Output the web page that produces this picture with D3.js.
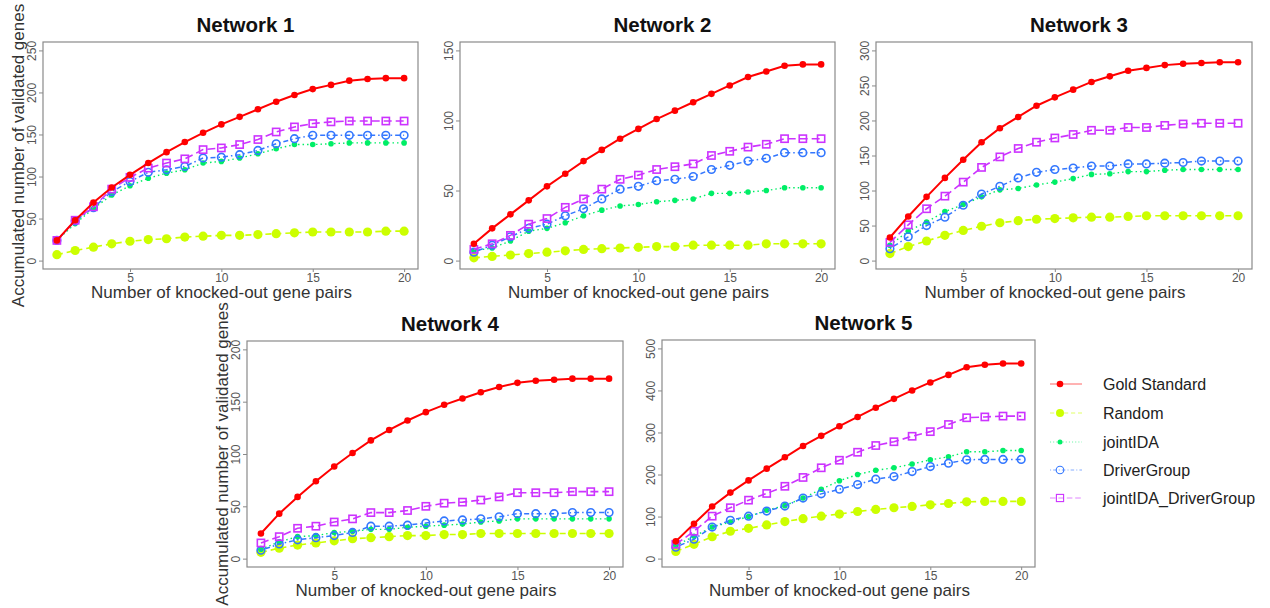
<!DOCTYPE html>
<html><head><meta charset="utf-8">
<script src="https://cdn.jsdelivr.net/npm/d3@7"></script>
<style>
html,body{margin:0;padding:0;background:#fff;}
svg{display:block;font-family:"Liberation Sans",Arial,sans-serif;}
</style></head>
<body>
<svg id="chart" width="1270" height="608"></svg>
<script>
const xValues = d3.range(1, 21);
const xTicks = [5, 10, 15, 20];
const seriesNames = ["Gold Standard", "Random", "jointIDA", "DriverGroup", "jointIDA_DriverGroup"];
const panelTitles = ["Network 1", "Network 2", "Network 3", "Network 4", "Network 5"];
const yMaxes = [250, 150, 300, 200, 500];
const yTicks = [[0,50,100,150,200,250],[0,50,100,150],[0,50,100,150,200,250,300],[0,50,100,150,200],[0,100,200,300,400,500]];

// Network 1
const n1Gold   = [24,48,69,87,102,116,129,141,152,162,171,180,189,197,204,209,214,216,217,217];
const n1Random = [7,12,16,20,23,25,26,28,29,30,30,31,32,33,34,34,34,34,35,35];
const n1Joint  = [24,44,62,78,89,98,104,108,116,118,122,127,133,138,138,139,140,140,140,140];
const n1Driver = [24,47,63,82,94,105,108,112,122,123,126,131,139,145,149,149,149,149,149,149];
const n1JD     = [24,48,64,85,99,110,116,121,132,134,138,144,153,159,163,165,166,166,166,166];
// Network 2
const n2Gold   = [12,23,33,43,53,62,71,79,87,94,101,107,113,119,125,131,135,139,140,140];
const n2Random = [2,3,4,5,6,7,8,8.5,9,9.5,10,10,11,11,11,11,12,12,12,12];
const n2Joint  = [7,9,14,21,23,27,32,36,39,40,42,43,44,48,48,49,50,52,52,52];
const n2Driver = [6,11,17,23,26,32,37,44,51,53,57,58,60,65,68,71,73,77,77,77];
const n2JD     = [8,12,18,26,30,38,44,51,58,61,65,67,69,75,78,81,83,87,87,87];
// Network 3
const n3Gold   = [33,63,91,118,144,169,189,205,221,233,244,255,263,271,275,279,281,282,283,283];
const n3Random = [10,20,28,36,43,49,54,57,59,60,61,62,62,63,64,64,64,64,64,64];
const n3Joint  = [22,42,55,70,80,91,101,103,108,112,117,123,124,127,127,129,130,130,130,130];
const n3Driver = [17,34,50,62,79,95,106,118,126,130,132,135,135,138,138,139,140,142,142,142];
const n3JD     = [26,51,74,92,112,133,148,160,169,175,180,186,186,190,190,193,195,196,196,196];
// Network 4
const n4Gold   = [24,43,59,74,88,101,113,123,132,140,147,153,159,164,168,170,171,172,172,172];
const n4Random = [6,10,13,15,17,19,20,21,22,22,23,23,24,24,24,24,24,24,24,24];
const n4Joint  = [9,16,21,22,25,26,28,28,30,31,32,33,35,36,38,38,38,38,38,38];
const n4Driver = [8,14,18,20,22,25,31,31,32,34,36,37,38,40,43,43,43,44,44,44];
const n4JD     = [15,21,29,31,35,38,44,44,46,50,53,54,56,59,63,63,63,64,64,64];
// Network 5
const n5Gold   = [41,83,124,157,186,214,241,268,292,315,337,359,380,400,419,437,455,461,464,464];
const n5Random = [17,34,52,65,72,80,88,95,101,106,112,117,121,124,128,131,135,136,136,136];
const n5Joint  = [31,53,75,87,100,115,126,144,165,185,200,210,216,225,235,242,254,254,257,257];
const n5Driver = [27,46,75,91,101,113,125,144,154,165,176,189,195,207,219,227,235,236,236,236];
const n5JD     = [34,65,101,121,139,155,172,193,216,234,253,269,278,291,302,319,335,337,339,339];

const panelData = [
  [n1Gold,n1Random,n1Joint,n1Driver,n1JD],
  [n2Gold,n2Random,n2Joint,n2Driver,n2JD],
  [n3Gold,n3Random,n3Joint,n3Driver,n3JD],
  [n4Gold,n4Random,n4Joint,n4Driver,n4JD],
  [n5Gold,n5Random,n5Joint,n5Driver,n5JD]
];

// Layout (plot boxes)
const boxes = [
  {l:43,  r:418,  t:42,  b:269, ylab:true},
  {l:460, r:835,  t:42,  b:269, ylab:false},
  {l:876, r:1252, t:42,  b:269, ylab:false},
  {l:247, r:623,  t:341, b:567, ylab:true},
  {l:662, r:1035, t:340, b:567, ylab:false}
];

const colors = ["#FF0000", "#CCFF00", "#00EE66", "#3377FF", "#CC33FF"];
const dashes = [null, "6,4", "1.5,3", "1.5,3,5,3", "8,4"];
const widths = [2, 1.6, 1.4, 1.5, 1.6];

const svg = d3.select("#chart");
const font = '"Liberation Sans",Arial,sans-serif';

function drawMarker(g, k, x, y, color, legend) {
  if (k === 0) {
    g.append("circle").attr("cx", x).attr("cy", y).attr("r", 3.3).attr("fill", color);
  } else if (k === 1) {
    g.append("circle").attr("cx", x).attr("cy", y).attr("r", legend ? 4 : 4.6).attr("fill", color);
  } else if (k === 2) {
    g.append("circle").attr("cx", x).attr("cy", y).attr("r", legend ? 2.5 : 2.8).attr("fill", color);
  } else if (k === 3) {
    g.append("circle").attr("cx", x).attr("cy", y).attr("r", 3.8).attr("fill", "none")
      .attr("stroke", color).attr("stroke-width", legend ? 1.1 : 1.6);
  } else {
    g.append("rect").attr("x", x - 3.6).attr("y", y - 3.6).attr("width", 7.2).attr("height", 7.2)
      .attr("fill", "none").attr("stroke", color).attr("stroke-width", legend ? 1.1 : 1.6);
  }
}

boxes.forEach((bx, i) => {
  const ymax = yMaxes[i];
  const x = d3.scaleLinear().domain([1 - 0.04*19, 20 + 0.04*19]).range([bx.l, bx.r]);
  const y = d3.scaleLinear().domain([-0.04*ymax, ymax*1.04]).range([bx.b, bx.t]);
  const g = svg.append("g");

  g.append("rect").attr("x", bx.l).attr("y", bx.t).attr("width", bx.r - bx.l).attr("height", bx.b - bx.t)
    .attr("fill", "none").attr("stroke", "#8a8a8a").attr("stroke-width", 1.2);

  const ya = g.append("g").attr("transform", `translate(${bx.l},0)`)
    .call(d3.axisLeft(y).tickValues(yTicks[i]).tickSize(4).tickPadding(2));
  ya.select(".domain").remove();
  ya.selectAll(".tick line").attr("stroke", "#8a8a8a");
  ya.selectAll(".tick text").attr("fill", "#555").attr("font-size", 12).attr("font-family", font)
    .attr("text-anchor", "middle").attr("x", 0).attr("dy", 0)
    .attr("transform", "translate(-11,0) rotate(-90)")
    .attr("dominant-baseline", "central");

  const xa = g.append("g").attr("transform", `translate(0,${bx.b})`)
    .call(d3.axisBottom(x).tickValues(xTicks).tickSize(3).tickPadding(1));
  xa.select(".domain").remove();
  xa.selectAll(".tick line").attr("stroke", "#8a8a8a");
  xa.selectAll(".tick text").attr("fill", "#555").attr("font-size", 12).attr("font-family", font);

  g.append("text").attr("x", (bx.l + bx.r)/2 + 15).attr("y", bx.t - 10)
    .attr("text-anchor", "middle").attr("font-size", 20.5).attr("font-weight", "bold")
    .attr("fill", "#111").attr("font-family", font).text(panelTitles[i]);

  g.append("text").attr("x", (bx.l + bx.r)/2 - 9).attr("y", bx.b + 29)
    .attr("text-anchor", "middle").attr("font-size", 17)
    .attr("fill", "#333").attr("font-family", font).text("Number of knocked-out gene pairs");

  if (bx.ylab) {
    g.append("text")
      .attr("transform", `translate(${bx.l - 19},${(bx.t + bx.b)/2}) rotate(-90)`)
      .attr("text-anchor", "middle").attr("font-size", 17)
      .attr("fill", "#333").attr("font-family", font).text("Accumulated number of validated genes");
  }

  const line = d3.line().x((d, j) => x(xValues[j])).y(d => y(d));
  const order = [1, 2, 3, 4, 0];
  order.forEach(k => {
    const vals = panelData[i][k];
    g.append("path").attr("d", line(vals)).attr("fill", "none")
      .attr("stroke", colors[k]).attr("stroke-width", widths[k])
      .attr("stroke-dasharray", dashes[k]);
    vals.forEach((v, j) => drawMarker(g, k, x(xValues[j]), y(v), colors[k], false));
  });
});

const lg = svg.append("g");
const legendRows = [384, 413, 442, 470, 498];
seriesNames.forEach((name, k) => {
  const yy = legendRows[k];
  lg.append("line").attr("x1", 1050).attr("x2", 1082).attr("y1", yy).attr("y2", yy)
    .attr("stroke", colors[k]).attr("stroke-width", 1).attr("stroke-opacity", 0.6)
    .attr("stroke-dasharray", dashes[k] ? dashes[k].split(",").map(v => v*0.7).join(",") : null);
  drawMarker(lg, k, 1060, yy, colors[k], true);
  lg.append("text").attr("x", 1103).attr("y", yy).attr("dominant-baseline", "central")
    .attr("font-size", 16).attr("fill", "#222").attr("font-family", font).text(name);
});
</script>
</body></html>
